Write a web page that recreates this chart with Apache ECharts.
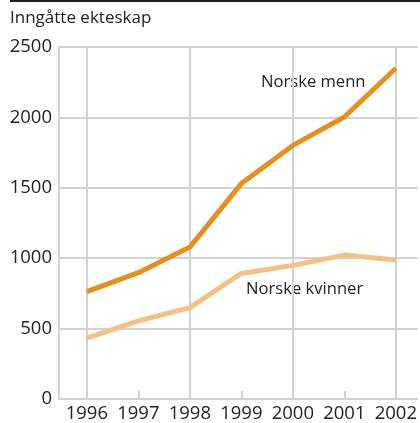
<!DOCTYPE html>
<html style="height:100%">
<head>
    <meta charset="utf-8">
    <title>Inngåtte ekteskap</title>
    <script src="https://cdn.jsdelivr.net/npm/echarts@6/dist/echarts.min.js"></script>
</head>
<body style="height:100%;margin:0">
    <div id="main" style="width:420px;height:423px;"></div>
    <script type="text/javascript">
        var years = [1996, 1997, 1998, 1999, 2000, 2001, 2002];
        var menn = [763, 897, 1079, 1530, 1801, 2003, 2349];
        var kvinner = [432, 555, 649, 892, 949, 1022, 987];
        var gridYears = [1996, 1998, 2000, 2002];
        var shortTickYears = [1997, 1999, 2001];

        var gridColor = '#d2d2d4';
        var textColor = '#222';
        var font = '"Open Sans", sans-serif';

        var myChart = echarts.init(document.getElementById('main'));

        function pairs(vals) {
            return years.map(function (y, i) { return [y, vals[i]]; });
        }

        var option = {
            backgroundColor: '#fff',
            animation: false,
            textStyle: { fontFamily: font },
            grid: { left: 59, right: 0, top: 47, bottom: 23, containLabel: false },
            graphic: [
                { type: 'rect', left: 10, top: 0, shape: { width: 410, height: 2 }, style: { fill: '#222' } },
                { type: 'text', x: 10, y: 18.5, style: { text: 'Inngåtte ekteskap', fill: textColor, font: '17px ' + font, verticalAlign: 'middle' } },
                { type: 'text', x: 261, y: 82.5, style: { text: 'Norske menn', fill: textColor, font: '16.6px ' + font, verticalAlign: 'middle' } },
                { type: 'text', x: 246, y: 289.5, style: { text: 'Norske kvinner', fill: textColor, font: '16.6px ' + font, verticalAlign: 'middle' } }
            ],
            xAxis: {
                type: 'value',
                min: 1995.46,
                max: 2002.42,
                axisLine: { show: true, lineStyle: { color: gridColor, width: 2 } },
                axisTick: {
                    show: true, inside: true, length: 8, customValues: shortTickYears,
                    lineStyle: { color: gridColor, width: 2 }
                },
                axisLabel: {
                    customValues: years, margin: 5, color: textColor, fontSize: 18.5, fontFamily: font,
                    formatter: function (v) { return String(v); }
                },
                splitLine: { show: false }
            },
            yAxis: {
                type: 'value',
                min: 0,
                max: 2500,
                interval: 500,
                axisLine: { show: true, lineStyle: { color: gridColor, width: 2 } },
                axisTick: { show: false },
                axisLabel: {
                    margin: 7, color: textColor, fontSize: 18.5, fontFamily: font,
                    formatter: function (v) { return String(v); }
                },
                splitLine: { show: true, lineStyle: { color: gridColor, width: 2 } }
            },
            series: [{
                name: 'Norske menn',
                type: 'line',
                data: pairs(menn),
                symbol: 'none',
                lineStyle: { color: '#e68f1c', width: 5 },
                markLine: {
                    silent: true,
                    z: 1,
                    symbol: 'none',
                    label: { show: false },
                    lineStyle: { color: gridColor, width: 2, type: 'solid' },
                    data: gridYears.map(function (y) { return { xAxis: y }; })
                }
            }, {
                name: 'Norske kvinner',
                type: 'line',
                data: pairs(kvinner),
                symbol: 'none',
                lineStyle: { color: '#f3c184', width: 5 }
            }]
        };

        myChart.setOption(option);
    </script>
</body>
</html>
